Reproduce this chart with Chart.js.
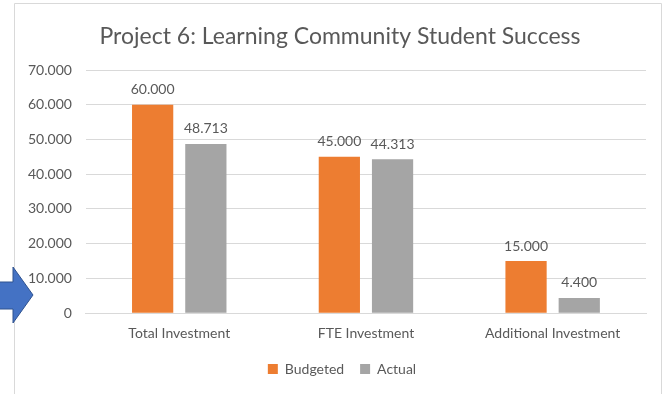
<!DOCTYPE html>
<html>
<head>
<meta charset="utf-8">
<title>Project 6: Learning Community Student Success</title>
<script src="https://cdn.jsdelivr.net/npm/chart.js@4"></script>
<style>
  html, body { margin: 0; padding: 0; background: #fff; }
  #wrap { position: relative; width: 664px; height: 394px; }
</style>
</head>
<body>
<div id="wrap"><canvas id="projectChart" width="664" height="394"></canvas></div>
<script>
const chartTitle = 'Project 6: Learning Community Student Success';
const categories = ['Total Investment', 'FTE Investment', 'Additional Investment'];
const budgeted = [60000, 45000, 15000];
const actual = [48713, 44313, 4400];
const yTicks = [0, 10000, 20000, 30000, 40000, 50000, 60000, 70000];

const textColor = '#595959';
const fontFamily = 'Lato, "Noto Sans", sans-serif';

// 60000 -> "60.000"
function fmt(v) {
  return String(v).replace(/\B(?=(\d{3})+(?!\d))/g, '.');
}

// value labels above each bar
const barLabels = {
  id: 'barLabels',
  afterDatasetsDraw(chart) {
    const ctx = chart.ctx;
    ctx.save();
    ctx.font = '14px ' + fontFamily;
    ctx.fillStyle = textColor;
    ctx.textAlign = 'center';
    ctx.textBaseline = 'bottom';
    chart.data.datasets.forEach((ds, i) => {
      chart.getDatasetMeta(i).data.forEach((bar, j) => {
        ctx.fillText(fmt(ds.data[j]), bar.x, bar.y - 8);
      });
    });
    ctx.restore();
  }
};

// chart frame, title centred on the frame, and the blue arrow on the left edge
const frame = {
  id: 'frame',
  afterLayout(chart) {
    // centre the legend under the frame rather than the padded box
    chart.legend.left += 12;
    chart.legend.right += 12;
  },
  beforeDraw(chart) {
    const ctx = chart.ctx;
    ctx.save();
    ctx.strokeStyle = '#D9D9D9';
    ctx.lineWidth = 1;
    ctx.beginPath();
    ctx.moveTo(14.5, 400);
    ctx.lineTo(14.5, 3.5);
    ctx.lineTo(661.5, 3.5);
    ctx.lineTo(661.5, 400);
    ctx.stroke();

    ctx.font = '23px ' + fontFamily;
    ctx.fillStyle = textColor;
    ctx.textAlign = 'center';
    ctx.textBaseline = 'middle';
    ctx.fillText(chartTitle, 340, 37);
    ctx.restore();
  },
  afterDraw(chart) {
    const ctx = chart.ctx;
    ctx.save();
    ctx.beginPath();
    ctx.moveTo(-2, 282);
    ctx.lineTo(13, 282);
    ctx.lineTo(13, 267);
    ctx.lineTo(33, 295);
    ctx.lineTo(13, 323);
    ctx.lineTo(13, 309);
    ctx.lineTo(-2, 309);
    ctx.closePath();
    ctx.fillStyle = '#4472C4';
    ctx.fill();
    ctx.strokeStyle = '#2F528F';
    ctx.lineWidth = 1;
    ctx.stroke();
    ctx.restore();
  }
};

new Chart(document.getElementById('projectChart'), {
  type: 'bar',
  data: {
    labels: categories,
    datasets: [
      { label: 'Budgeted', data: budgeted, backgroundColor: '#ED7D31' },
      { label: 'Actual', data: actual, backgroundColor: '#A5A5A5' }
    ]
  },
  options: {
    responsive: false,
    animation: false,
    categoryPercentage: 0.57,
    barPercentage: 0.775,
    layout: { padding: { left: 14, right: 18, top: 70, bottom: 8 } },
    plugins: {
      legend: {
        position: 'bottom',
        labels: {
          color: textColor,
          font: { family: fontFamily, size: 14 },
          boxWidth: 10,
          boxHeight: 10,
          padding: 16
        }
      },
      tooltip: { enabled: false }
    },
    scales: {
      x: {
        grid: { display: false },
        border: { display: true, color: '#D9D9D9' },
        ticks: { color: textColor, font: { family: fontFamily, size: 14 }, padding: 4 }
      },
      y: {
        min: 0,
        max: 70000,
        afterBuildTicks(axis) { axis.ticks = yTicks.map(v => ({ value: v })); },
        grid: { color: '#D9D9D9', drawTicks: false },
        border: { display: false },
        ticks: {
          color: textColor,
          font: { family: fontFamily, size: 14 },
          padding: 14,
          callback: v => fmt(v)
        }
      }
    }
  },
  plugins: [frame, barLabels]
});
</script>
</body>
</html>
